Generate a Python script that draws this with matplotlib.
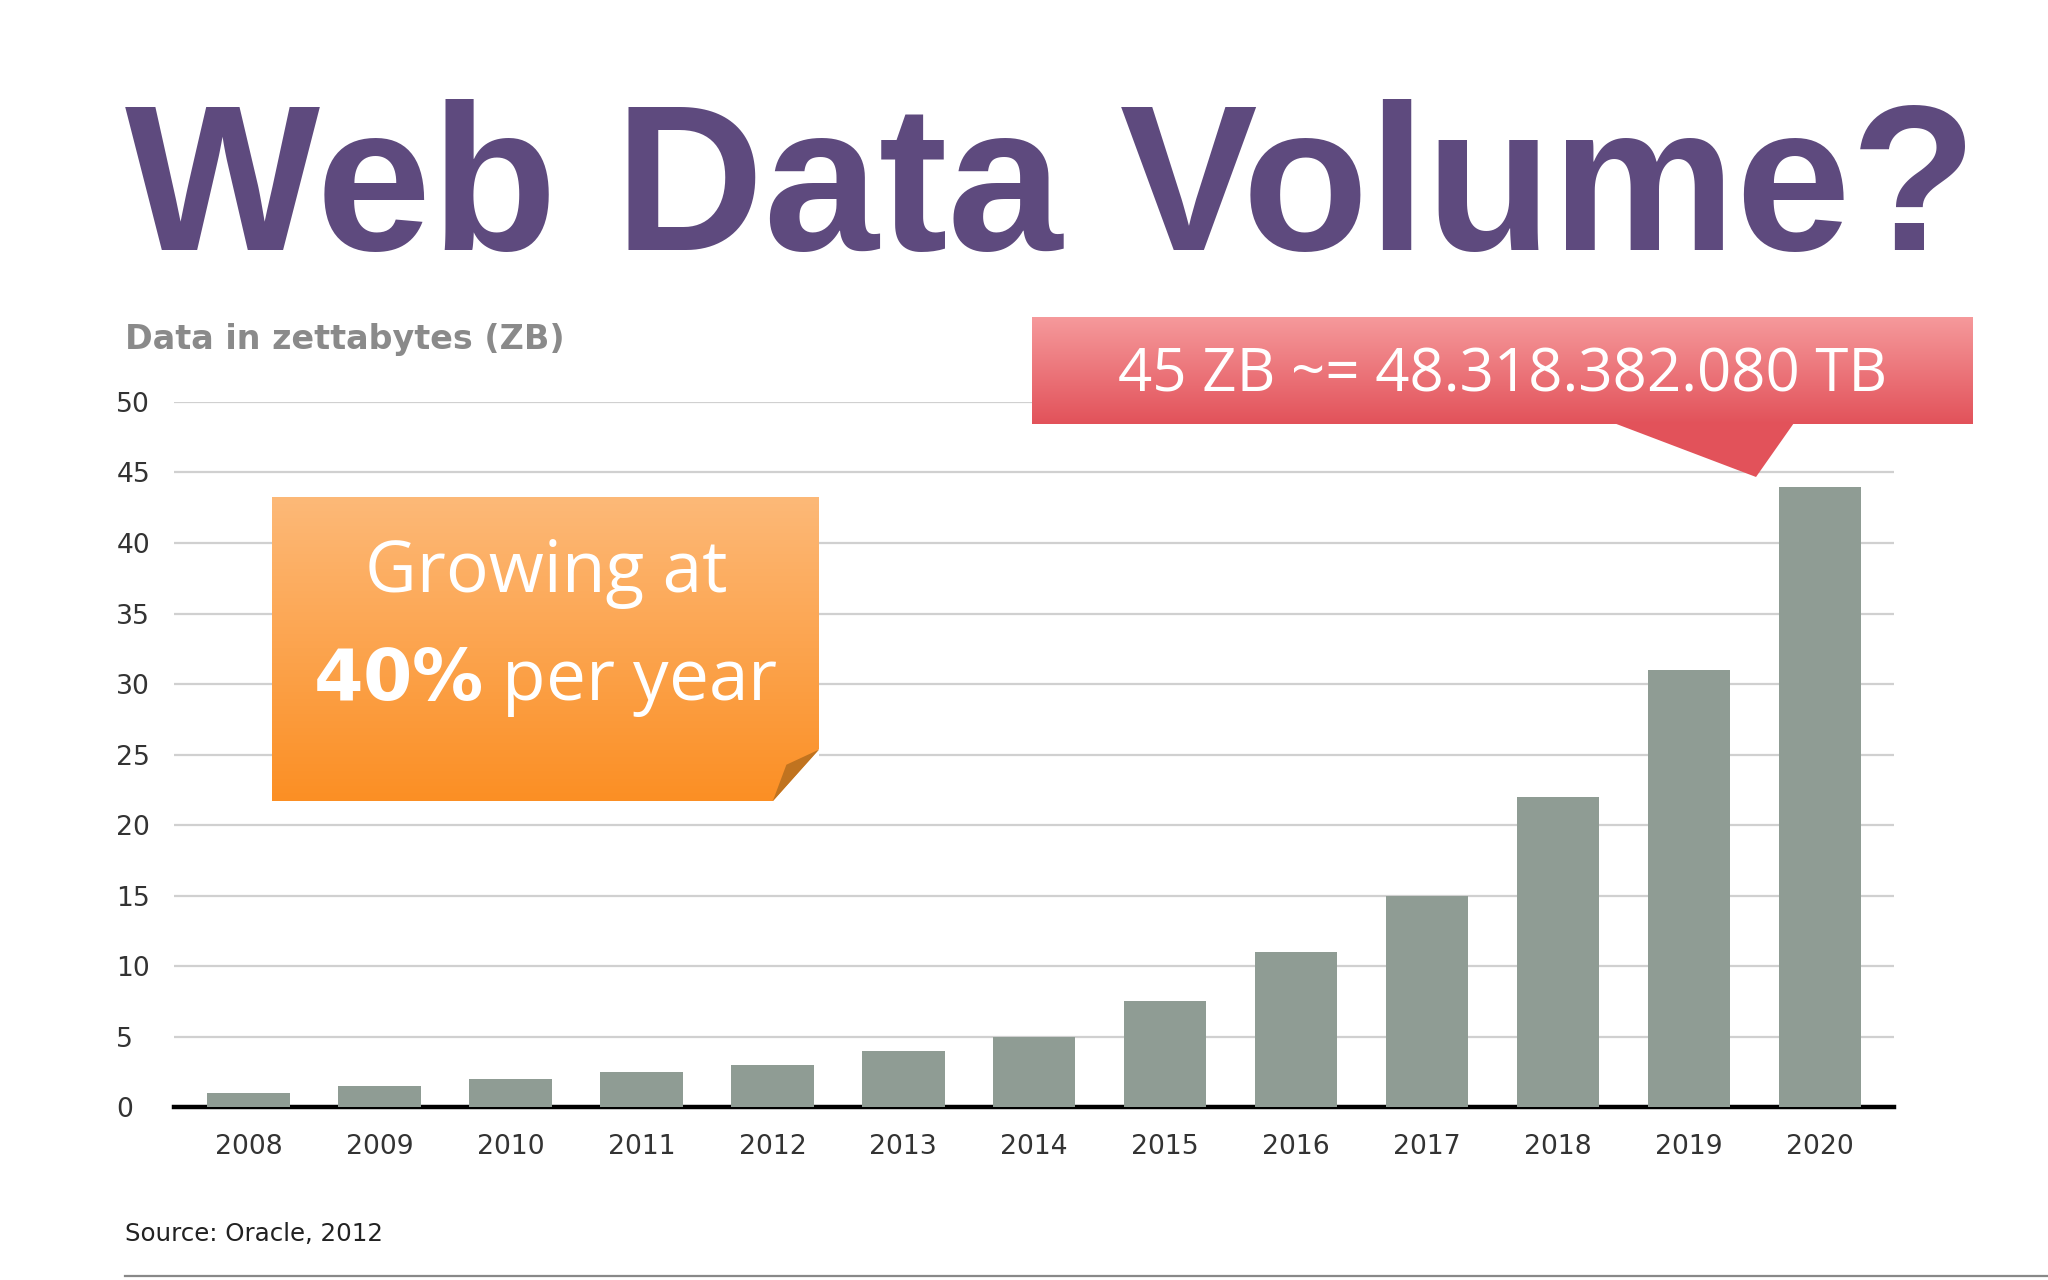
import matplotlib
matplotlib.use("Agg")
import matplotlib.pyplot as plt
import numpy as np
from matplotlib.patches import Polygon
from matplotlib.colors import LinearSegmentedColormap

years = ["2008","2009","2010","2011","2012","2013","2014","2015","2016","2017","2018","2019","2020"]
values = [1.0, 1.5, 2.0, 2.5, 3.0, 4.0, 5.0, 7.5, 11.0, 15.0, 22.0, 31.0, 44.0]
yticks = [0, 5, 10, 15, 20, 25, 30, 35, 40, 45, 50]

fig = plt.figure(figsize=(12.8, 8.0), dpi=160)
fig.patch.set_facecolor("white")

fig.text(0.061, 0.847, "Web Data Volume?", fontsize=93, fontweight="bold",
         color="#5e4a7e", va="center", ha="left", family="Liberation Sans")
fig.text(0.061, 0.735, "Data in zettabytes (ZB)", fontsize=15, fontweight="bold",
         color="#8a8a8a", va="center", ha="left")

ax = fig.add_axes([0.085, 0.135, 0.84, 0.551])
x = np.arange(len(years))
ax.bar(x, values, width=0.63, color="#8f9c94", zorder=3)
ax.set_ylim(0, 50)
ax.set_xlim(-0.57, len(years) - 0.43)
ax.set_yticks(yticks)
ax.set_xticks(x)
ax.set_xticklabels(years)
ax.grid(axis="y", color="#d0d0d0", lw=1, zorder=0)
for s in ["top", "right", "left"]:
    ax.spines[s].set_visible(False)
ax.spines["bottom"].set_linewidth(2)
ax.tick_params(axis="both", length=0, labelsize=12, colors="#333333")
ax.tick_params(axis="x", pad=12)
for lbl in ax.get_yticklabels():
    lbl.set_horizontalalignment("left")
    lbl.set_x(-0.029)

# orange note box with gradient
bx0, by0, bw, bh = 0.133, 0.374, 0.267, 0.238
gax = fig.add_axes([bx0, by0, bw, bh])
grad = np.linspace(0, 1, 256).reshape(-1, 1)
cm = LinearSegmentedColormap.from_list("o", ["#fdb978", "#fb8f24"])
gax.imshow(grad, aspect="auto", cmap=cm, extent=[0, 1, 0, 1], origin="upper")
gax.add_patch(Polygon([[0.915, 0.0], [1.0, 0.0], [1.0, 0.17]], closed=True,
                      facecolor="white", edgecolor="none"))
gax.add_patch(Polygon([[0.915, 0.0], [1.0, 0.17], [0.94, 0.12]], closed=True,
                      facecolor="#c0731f", edgecolor="none"))
gax.set_xlim(0, 1); gax.set_ylim(0, 1); gax.axis("off")
gax.text(0.5, 0.75, "Growing at", fontsize=32, color="white", ha="center", va="center",
         family="Open Sans")
gax.text(0.5, 0.39, r"$\mathbf{40\%}$ per year", fontsize=32, color="white",
         ha="center", va="center", family="Open Sans")

# red callout
rax = fig.add_axes([0.504, 0.60, 0.459, 0.152])
cr = LinearSegmentedColormap.from_list("r", ["#f69a9c", "#e2525a"])
rax.set_xlim(0, 1); rax.set_ylim(0, 1)
rax.imshow(grad, aspect="auto", cmap=cr, extent=[0, 1, 0.45, 1], origin="upper")
rax.add_patch(Polygon([[0.62, 0.455], [0.81, 0.455], [0.77, 0.18]], closed=True,
                      facecolor="#e2525a", edgecolor="none"))
rax.axis("off")
rax.text(0.5, 0.70, "45 ZB ~= 48.318.382.080 TB", fontsize=27, color="white",
         ha="center", va="center", family="Open Sans")

fig.text(0.061, 0.036, "Source: Oracle, 2012", fontsize=11, color="#222222",
         va="center", ha="left")
fig.add_artist(plt.Line2D([0.061, 1.0], [0.003, 0.003], color="#888888", lw=1))

fig.savefig("out.png", dpi=160)
